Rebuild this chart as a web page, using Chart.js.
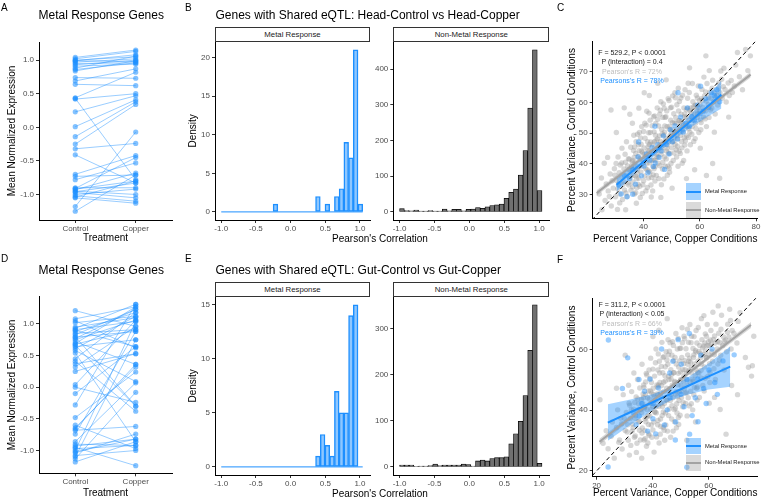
<!DOCTYPE html>
<html>
<head>
<meta charset="utf-8">
<script src="https://cdn.jsdelivr.net/npm/chart.js@4.4.1/dist/chart.umd.min.js"></script>
<style>
  html, body { margin: 0; padding: 0; background: #fff; }
  #fig { position: relative; width: 766px; height: 499px; overflow: hidden; font-family: "Liberation Sans", Arial, sans-serif; }
  #fig canvas { position: absolute; }
  .t { position: absolute; white-space: nowrap; line-height: 1; }
  .strip { position: absolute; box-sizing: border-box; border: 1px solid #333; background: #fff; font-size: 7.8px; color: #1a1a1a; display: flex; align-items: center; justify-content: center; }
  .key { position: absolute; width: 15px; }
  .key i { position: absolute; left: 0; right: 0; top: 50%; height: 2px; margin-top: -1px; }
</style>
</head>
<body>
<div id="fig"></div>
<script>
// ---- data ----
const treatments = ['Control', 'Copper'];

// A / D: mean normalized expression per metal response gene
const headCtrl = [1.04, 1.02, 1.00, 0.99, 0.97, 0.95, 0.93, 0.91, 0.88, 0.84, 0.74, 0.69, 0.64, 0.44, 0.42, 0.43, 0.23, 0.01, -0.14, -0.25, -0.32, -0.41, -0.70, -0.73, -0.78, -0.90, -0.92, -0.93, -0.95, -0.97, -1.00, -1.02, -1.04, -1.05, -0.91, -1.18, -1.25, -0.96, 0.99, 0.86];
const headCopper = [1.15, 1.13, 1.05, 0.98, 1.02, 0.96, 1.00, 0.94, 1.06, 0.99, 0.73, 0.87, 0.62, 0.82, 0.50, -0.78, 0.47, 0.41, 0.38, 0.34, -0.24, -0.83, -0.42, -0.71, -0.53, -0.90, -0.80, -0.68, -1.00, -1.05, -0.92, -1.10, -0.80, -1.13, -0.45, -0.07, -0.71, -0.83, 1.08, 0.96];
const gutCtrl = [1.21, 1.08, 1.05, 1.02, 0.93, 0.91, 0.88, 0.85, 0.83, 0.79, 0.75, 0.72, 0.69, 0.66, 0.64, 0.61, 0.58, 0.54, 0.45, 0.41, 0.37, 0.32, 0.04, 0.00, -0.10, -0.28, -0.48, -0.60, -0.64, -0.68, -0.74, -0.86, -0.93, -0.97, -1.00, -1.04, -1.08, -1.13, -1.18, -0.95, 0.90, 0.77, -1.02, -0.90, 0.68, 0.95, 0.80, -0.66, 0.25, -1.10];
const gutCopper = [0.96, 1.27, 0.62, 1.12, 1.31, 1.04, 1.18, 0.91, 1.23, 0.88, 1.06, 0.36, 1.27, -0.30, 0.75, 1.12, 0.09, -0.86, 1.18, -0.38, 0.53, 0.96, 1.06, -0.24, 0.64, 1.31, 0.24, -0.97, 0.32, -0.62, 0.88, 0.07, -0.82, -0.92, 1.04, -0.74, -1.00, -0.08, -0.86, -1.24, 0.64, 1.23, -0.82, -0.92, 0.91, 1.10, -0.30, 0.36, 0.53, 0.75];

// B / E: histogram bins of Pearson's correlation
const binCenters = [-0.966, -0.898, -0.830, -0.762, -0.694, -0.626, -0.558, -0.490, -0.422, -0.354, -0.286, -0.218, -0.150, -0.082, -0.014, 0.054, 0.122, 0.190, 0.258, 0.326, 0.394, 0.462, 0.530, 0.598, 0.666, 0.734, 0.802, 0.870, 0.938, 1.006];
const binEdges = [-1.0, 1.04];
const headMetal = [0, 0, 0, 0, 0, 0, 0, 0, 0, 0, 0, 1, 0, 0, 0, 0, 0, 0, 0, 0, 2, 0, 1, 0, 2, 3, 9, 7, 21, 1];
const headOther = [9, 4, 3, 5, 2, 2, 4, 2, 2, 8, 3, 7, 7, 3, 7, 8, 12, 10, 14, 18, 20, 22, 38, 55, 64, 103, 172, 291, 454, 60];
const gutMetal = [0, 0, 0, 0, 0, 0, 0, 0, 0, 0, 0, 0, 0, 0, 0, 0, 0, 0, 0, 0, 1, 3, 2, 1, 7, 5, 5, 14, 15, 0];
const gutOther = [4, 4, 4, 1, 2, 2, 3, 6, 3, 4, 4, 4, 4, 6, 5, 2, 13, 15, 13, 18, 20, 20, 22, 50, 72, 99, 155, 253, 352, 8];

// C / F: percent variance, copper (x) vs control (y)
const headGrey = [[24.3,30.2],[25.1,35.4],[26.4,28.1],[26.8,33.5],[27.5,31.2],[28.2,36.7],[28.6,26.3],[29.3,32.1],[29.7,38.4],[30.1,29.3],[30.5,34.6],[30.8,25.2],
  [31.2,33.4],[31.4,37.1],[31.7,30.2],[32.1,35.6],[32.3,40.3],[32.6,28.4],[33.0,34.2],[33.3,31.5],[33.5,43.1],[33.9,36.2],[34.2,29.4],[34.4,39.3],[34.8,33.1],[35.0,41.5],[35.3,37.2],[35.6,31.4],[31.0,42.2],[32.4,45.1],[33.1,38.3],[34.0,47.2],[30.3,40.1],[31.6,27.3],[34.6,33.8],[35.5,45.4],[33.7,25.1],
  [36.1,38.2],[36.3,34.1],[36.5,44.3],[36.8,30.2],[37.0,40.4],[37.2,36.1],[37.4,47.2],[37.7,32.3],[38.0,39.1],[38.2,42.4],[38.4,35.3],[38.6,50.2],[38.9,29.1],[39.1,37.4],[39.3,44.1],[39.5,41.3],[39.8,33.2],[40.0,40.3],[40.2,45.2],[40.4,36.1],[40.6,48.3],[40.9,31.2],[36.2,41.1],[37.3,43.4],[38.3,46.2],[39.4,52.1],[36.6,49.3],[37.5,27.2],[39.6,30.4],[40.5,53.2],[38.1,33.4],[36.4,36.3],[37.8,38.1],[39.2,46.4],[40.7,42.2],
  [41.1,42.3],[41.3,38.1],[41.5,47.2],[41.8,35.4],[42.0,44.1],[42.2,40.3],[42.5,50.2],[42.7,33.1],[43.0,43.2],[43.2,46.4],[43.4,39.1],[43.6,55.3],[43.9,45.1],[44.1,41.2],[44.3,49.3],[44.6,36.2],[44.8,44.4],[45.0,48.1],[45.2,40.2],[45.4,52.3],[41.2,57.1],[42.3,37.3],[43.3,31.2],[44.4,53.1],[45.5,35.2],[41.6,44.3],[42.6,47.1],[43.7,41.3],[44.7,43.1],[45.7,46.2],[41.9,50.1],[42.8,29.2],[43.8,50.4],[44.9,58.2],[45.8,56.1],[41.4,32.3],[42.4,54.2],[43.5,36.4],[44.2,39.1],[45.3,42.2],
  [46.1,47.3],[46.3,43.1],[46.5,51.2],[46.8,38.3],[47.0,46.1],[47.2,49.4],[47.5,42.2],[47.7,55.1],[48.0,48.3],[48.2,44.2],[48.4,52.1],[48.7,39.2],[49.0,47.1],[49.2,51.3],[49.4,43.4],[49.6,58.2],[49.9,49.1],[50.1,45.2],[50.3,53.4],[50.6,41.1],[46.2,60.2],[47.3,35.1],[48.3,57.2],[49.3,37.3],[50.4,62.1],[46.6,45.2],[47.6,52.3],[48.6,46.1],[49.7,54.2],[50.7,47.3],[46.9,55.1],[47.8,39.2],[48.8,61.2],[49.8,40.1],[50.8,56.3],[46.4,33.2],[47.4,58.1],[48.5,36.3],[49.5,49.2],[50.5,51.1],
  [51.1,50.2],[51.3,46.3],[51.5,55.1],[51.8,42.2],[52.0,51.3],[52.2,48.1],[52.5,57.2],[52.7,44.1],[53.0,52.4],[53.2,49.3],[53.4,56.1],[53.7,45.2],[54.0,53.1],[54.2,50.4],[54.4,58.2],[54.7,46.1],[55.0,52.3],[55.2,55.2],[55.4,49.1],[55.7,61.3],[51.2,63.1],[52.3,39.2],[53.3,61.4],[54.3,41.1],[55.5,44.2],[51.6,53.3],[52.6,54.1],[53.6,47.2],[54.6,55.3],[55.8,58.1],[51.9,59.2],[52.8,60.3],[53.8,40.2],[54.8,64.1],[55.9,66.2],
  [56.2,54.1],[56.5,50.3],[56.8,58.2],[57.1,55.4],[57.3,52.1],[57.6,60.2],[57.9,47.3],[58.2,56.1],[58.5,53.2],[58.8,62.3],[59.1,55.1],[59.4,58.4],[59.7,50.2],[60.0,57.1],[60.3,54.3],[60.6,61.2],[56.3,63.2],[57.4,66.1],[58.4,48.2],[59.5,65.3],[60.4,51.1],[56.7,46.2],[58.6,59.1],[59.2,61.4],[60.8,64.2],
  [61.1,58.3],[61.4,55.2],[61.7,62.1],[62.0,57.2],[62.3,60.4],[62.6,66.1],[63.0,59.2],[63.3,55.1],[63.6,63.3],[64.0,61.2],[64.3,58.1],[64.6,67.2],[65.0,60.3],[65.3,63.1],[61.5,68.2],[62.4,52.1],[63.4,70.3],[65.5,56.2],
  [66.1,62.2],[66.4,59.1],[66.8,66.3],[67.2,63.1],[67.5,70.2],[68.0,61.3],[68.4,65.1],[69.0,64.2],[69.4,60.1],[70.1,66.3],[70.5,62.2],[68.6,71.1],
  [71.2,67.1],[71.6,63.2],[72.3,65.3],[72.8,72.1],[73.4,76.2],[74.1,68.3],[75.2,64.1],[76.3,77.2],[77.1,70.3],[78.0,75.1],
  [62.2,75.1],[45.1,66.2],[38.4,58.1],[55.3,35.2],[60.2,45.1],[65.2,50.3],[30.4,50.2],[27.3,42.1],[48.1,67.3],[42.1,62.2],[50.2,32.1],[56.4,71.2],[35.2,56.1],[70.3,55.2],[46.2,29.1],
  [28.5,57.5],[33.2,58.2],[40.3,63.1],[36.1,53.2],[62.4,36.2],[67.1,35.3],[64.6,40.1],[58.2,38.1],[26.1,40.2],[25.3,25.1],
  [35.8,39.2],[36.7,42.1],[37.6,35.2],[38.5,44.3],[39.4,39.2],[40.3,43.1],[41.2,40.2],[42.1,46.3],[43.0,41.1],[43.9,47.2],[44.8,42.3],[45.7,49.1],[46.6,44.2],[47.5,50.3],[48.4,45.1],[49.3,52.2],[50.2,47.1],[51.1,53.3],[52.0,49.2],[52.9,54.1],[53.8,51.3],[54.7,56.2],[55.6,52.1],[56.5,57.3],[57.4,54.2],[58.3,59.1],[59.2,56.3],[60.1,59.2],
  [35.2,35.4],[36.0,40.6],[37.1,38.7],[38.0,36.8],[38.8,41.7],[39.7,43.6],[40.8,38.5],[41.7,45.6],[42.9,43.7],[43.8,38.4],[44.5,47.6],[45.6,45.3],[46.7,49.7],[47.9,47.4],[48.9,43.5],[49.9,50.6],[51.0,48.6],[51.7,44.6],[52.9,50.7],[53.5,53.8],[54.5,48.5],[55.3,57.6],[56.1,51.4],[57.0,56.7],[57.8,58.5],[58.9,57.5],[59.9,60.5],[61.0,60.7],[62.1,63.4],[63.2,61.6],[64.4,64.6],[65.6,61.7],[66.7,64.6],[67.8,67.5],
  [33.6,40.5],[34.9,38.2],[36.9,45.5],[37.9,49.6],[39.0,48.4],[40.1,50.5],[41.0,52.6],[42.0,56.5],[43.1,52.4],[44.0,55.6],[45.1,54.5],[46.0,57.4],[47.1,59.5],[48.0,55.3],[49.1,60.6],[50.0,58.4],[51.4,61.5],[52.4,64.6],[53.9,62.3],
  [36.2,32.5],[37.3,30.6],[38.7,32.7],[40.1,34.5],[41.9,37.6],[42.9,35.6],[44.1,34.4],[45.9,39.4],[46.9,40.5],[48.1,41.6],[49.2,38.6],[50.9,43.5],[52.1,45.7],[53.1,43.4],[54.9,47.5],[56.0,48.6],[57.2,49.6],[58.7,51.5],[60.5,53.4],[61.9,54.6],[63.8,57.5],
  [29.9,36.3],[30.9,31.8],[31.8,39.6],[32.8,33.4],[33.8,30.5],[34.7,41.7],[28.9,34.5],[27.9,29.4]];
const headBlue = [[31.2,33.1],[32.1,30.2],[33.3,36.1],[34.2,29.3],[35.1,35.2],[36.3,38.1],[37.2,33.4],[38.1,42.2],[39.3,36.1],[40.2,39.3],[41.1,43.2],[41.6,37.1],[42.3,41.2],[43.1,45.3],[43.6,39.1],[44.2,40.3],[45.1,46.2],[45.6,42.1],[46.3,44.2],[47.1,49.1],[47.5,38.2],[48.2,46.3],[49.1,43.2],[49.6,51.1],[50.3,47.2],[51.2,52.3],[52.1,48.1],[53.2,55.2],[54.1,50.3],[55.1,53.1],[55.6,58.2],[56.3,52.1],[57.2,55.3],[58.1,54.2],[59.2,59.1],[60.1,56.3],[61.2,57.1],[62.1,61.2],[63.2,58.3],[64.1,63.1],[65.2,62.2],[66.1,64.1],[67.1,60.2],[38.3,47.1],[44.1,52.2],[52.3,63.1],[36.2,30.1],[60.3,65.2]];
const gutGrey = [[21.2,43.4],[22.3,29.1],[23.4,33.2],[24.1,27.3],[25.2,31.4],[25.6,36.1],[26.3,24.2],[27.1,34.3],[27.5,40.1],[28.2,30.2],[28.6,37.3],[29.1,27.2],[29.5,45.1],[30.2,33.3],[30.6,39.2],
  [31.1,35.2],[31.3,30.1],[31.6,42.3],[32.0,37.2],[32.2,28.4],[32.5,46.1],[33.0,34.2],[33.2,40.3],[33.5,31.1],[33.9,38.2],[34.1,44.3],[34.4,29.1],[34.8,36.2],[35.0,42.1],[35.3,33.4],[31.4,48.2],[32.4,40.1],[33.3,52.2],[34.2,26.1],[35.4,47.3],[31.7,25.2],[32.7,33.1],[33.7,37.3],[34.6,50.1],[35.6,30.2],
  [36.1,39.2],[36.3,34.1],[36.6,45.3],[36.9,30.2],[37.1,41.1],[37.3,37.2],[37.5,49.3],[37.8,28.1],[38.0,40.2],[38.2,44.1],[38.5,35.3],[38.7,53.2],[39.0,38.1],[39.2,46.3],[39.4,42.2],[39.7,31.1],[40.0,41.3],[40.2,47.2],[40.4,36.1],[40.7,51.2],[36.2,55.1],[37.2,33.3],[38.3,29.2],[39.3,57.1],[40.5,26.2],[36.5,42.1],[37.4,45.2],[38.4,38.3],[39.5,35.1],[40.6,44.2],[36.8,48.3],[37.7,52.1],[38.6,32.2],[39.6,49.1],[40.8,39.3],
  [41.1,43.2],[41.3,39.1],[41.5,48.3],[41.8,35.2],[42.0,45.1],[42.2,41.3],[42.5,52.2],[42.7,32.1],[43.0,44.3],[43.2,48.1],[43.4,38.2],[43.7,57.3],[44.0,46.1],[44.2,42.2],[44.4,51.3],[44.7,35.1],[45.0,47.2],[45.2,43.3],[45.4,55.1],[45.7,38.2],[41.2,60.1],[42.3,29.2],[43.3,62.3],[44.3,30.1],[45.5,63.2],[41.6,45.3],[42.6,49.1],[43.5,41.2],[44.5,54.3],[45.8,50.1],[41.9,53.2],[42.8,37.1],[43.8,34.3],[44.8,59.2],[45.3,33.1],[41.4,31.2],[42.4,56.1],[43.6,52.3],[44.6,39.1],[45.6,58.2],
  [46.1,47.1],[46.3,43.2],[46.5,53.3],[46.8,37.1],[47.0,48.2],[47.2,44.1],[47.5,56.3],[47.7,40.2],[48.0,49.1],[48.2,45.3],[48.4,55.2],[48.7,39.1],[49.0,48.3],[49.2,52.1],[49.4,43.2],[49.7,60.3],[50.0,50.1],[50.2,46.2],[50.4,57.3],[50.7,41.1],[46.2,62.2],[47.3,33.1],[48.3,65.2],[49.3,35.3],[50.5,67.1],[46.6,50.2],[47.6,52.3],[48.6,42.1],[49.6,56.2],[50.8,53.3],[46.9,58.1],[47.8,36.2],[48.8,60.1],[49.8,38.3],[50.6,62.2],[46.4,31.1],[47.4,61.3],[48.5,34.2],[49.5,46.1],[50.3,44.2],
  [51.1,51.2],[51.3,47.1],[51.5,56.3],[51.8,42.2],[52.0,52.1],[52.2,48.3],[52.5,58.2],[52.7,44.1],[53.0,53.2],[53.2,57.1],[53.4,49.3],[53.7,62.2],[54.0,54.1],[54.2,50.2],[54.4,60.3],[54.7,45.1],[55.0,55.2],[55.2,51.3],[55.4,59.1],[55.7,47.2],[51.2,64.3],[52.3,38.1],[53.3,68.2],[54.3,40.1],[55.5,66.2],[51.6,53.3],[52.6,55.1],[53.6,46.2],[54.6,57.3],[55.8,62.1],[51.9,60.2],[52.8,62.3],[53.8,42.1],[54.8,64.2],[55.9,43.3],
  [56.2,56.1],[56.5,52.2],[56.8,61.3],[57.1,57.2],[57.3,53.1],[57.6,63.2],[57.9,48.1],[58.2,58.3],[58.5,54.2],[58.8,65.1],[59.1,57.3],[59.4,61.2],[59.7,51.1],[60.0,58.2],[60.3,55.3],[60.6,63.1],[56.3,67.2],[57.4,70.1],[58.4,46.3],[59.5,68.2],[60.4,49.1],[56.7,44.2],[58.6,62.1],[59.2,64.3],[60.8,66.2],
  [61.1,59.2],[61.4,56.1],[61.7,63.3],[62.0,58.2],[62.3,62.1],[62.6,68.3],[63.0,60.1],[63.3,55.2],[63.6,65.3],[64.0,62.2],[64.3,58.1],[64.6,71.2],[65.0,61.3],[65.3,64.1],[61.5,72.2],[62.4,50.1],[63.4,74.3],[65.5,53.2],
  [66.1,63.1],[66.4,59.2],[66.8,68.3],[67.2,64.1],[67.5,73.2],[68.0,60.1],[68.4,66.2],[69.0,65.3],[70.1,62.1],[70.5,69.2],[71.2,72.1],[73.1,57.3],[74.2,54.1],[75.3,51.2],[75.6,54.6],[76.1,64.3],
  [66.2,32.1],[64.1,40.2],[70.3,45.1],[30.2,58.1],[27.1,47.2],[45.2,70.1],[40.1,64.2],[55.3,36.1],[60.2,42.3],[36.1,24.2],[52.2,30.1],[62.1,44.2],[58.3,71.1],[42.2,66.3],[68.2,48.1],
  [35.8,40.2],[36.7,44.1],[37.6,36.2],[38.5,46.3],[39.4,40.2],[40.3,45.1],[41.2,41.2],[42.1,48.3],[43.0,42.1],[43.9,49.2],[44.8,43.3],[45.7,51.1],[46.6,45.2],[47.5,52.3],[48.4,46.1],[49.3,54.2],[50.2,48.1],[51.1,55.3],[52.0,50.2],[52.9,56.1],[53.8,52.3],[54.7,58.2],[55.6,53.1],[56.5,59.3],[57.4,55.2],[58.3,61.1],[59.2,57.3],[60.1,61.2],
  [35.2,36.4],[36.0,43.6],[37.1,40.7],[38.0,37.8],[38.8,43.7],[39.7,45.6],[40.8,39.5],[41.7,47.6],[42.9,45.7],[43.8,39.4],[44.5,49.6],[45.6,46.3],[46.7,51.7],[47.9,49.4],[48.9,44.5],[49.9,52.6],[51.0,49.6],[51.7,45.6],[52.9,52.7],[53.5,55.8],[54.5,49.5],[55.3,59.6],[56.1,52.4],[57.0,58.7],[57.8,60.5],[58.9,59.5],[59.9,62.5],[61.0,61.7],[62.1,64.4],[63.2,62.6],[64.4,66.6],[65.6,62.7],[66.7,65.6],[67.8,69.5],
  [33.6,42.5],[34.9,40.2],[36.9,47.5],[37.9,51.6],[39.0,50.4],[40.1,53.5],[41.0,55.6],[42.0,58.5],[43.1,54.4],[44.0,57.6],[45.1,56.5],[46.0,59.4],[47.1,62.5],[48.0,57.3],[49.1,63.6],[50.0,60.4],[51.4,63.5],[52.4,66.6],[53.9,64.3],
  [36.2,32.5],[37.3,30.6],[38.7,31.7],[40.1,33.5],[41.9,36.6],[42.9,34.6],[44.1,33.4],[45.9,40.4],[46.9,41.5],[48.1,40.6],[49.2,37.6],[50.9,42.5],[52.1,45.7],[53.1,41.4],[54.9,47.5],[56.0,47.6],[57.2,50.6],[58.7,50.5],[60.5,52.4],[61.9,53.6],[63.8,56.5],
  [29.9,37.3],[30.9,32.8],[31.8,41.6],[32.8,35.4],[33.8,31.5],[34.7,43.7],[28.9,35.5],[27.9,29.4]];
const gutBlue = [[24.2,63.1],[24.1,21.3],[52.2,21.2],[31.1,57.2],[29.2,47.1],[69.1,58.2],[35.2,38.1],[37.1,46.2],[40.2,42.1],[42.1,47.3],[45.2,40.1],[46.1,52.2],[48.2,36.1],[50.1,45.2],[52.3,50.1],[53.1,65.2],[55.2,44.1],[56.1,50.3],[58.2,47.1],[60.1,53.2],[62.2,49.1],[65.1,56.2],[44.2,35.1],[41.1,32.2],[38.2,33.1],[36.1,42.2],[33.2,39.1],[34.1,35.2],[47.2,56.1],[49.1,63.2],[51.2,41.1],[54.1,38.2],[57.2,58.1],[59.1,42.2],[61.2,60.1],[63.1,45.2],[43.2,60.1],[39.1,50.2],[46.2,44.1],[48.1,30.2],[50.2,55.1],[53.2,32.1],[56.2,36.2],[35.1,50.1],[40.1,37.2]];

// fitted lines with confidence bands
const headFitGreyX = [23.4, 50, 78.1];
const headFitGreyY = [30.5, 49.2, 69.0];
const headFitGreyLo = [29.6, 48.8, 68.1];
const headFitGreyHi = [31.4, 49.6, 69.9];
const headFitBlueX = [30.5, 38, 44, 50, 56, 62, 67.7];
const headFitBlueY = [33.2, 39.1, 43.8, 48.6, 53.3, 58.0, 62.5];
const headFitBlueLo = [31.0, 37.6, 42.7, 47.3, 51.3, 54.9, 58.0];
const headFitBlueHi = [35.4, 40.6, 44.9, 49.9, 55.3, 61.1, 67.0];
const gutFitGreyX = [21, 48, 75.1];
const gutFitGreyY = [29.6, 48.8, 68.0];
const gutFitGreyLo = [28.6, 48.3, 67.0];
const gutFitGreyHi = [30.6, 49.3, 69.0];
const gutFitBlueX = [24, 32, 40, 46, 52, 60, 67.7];
const gutFitBlueY = [35.9, 39.3, 42.6, 45.2, 47.7, 51.1, 54.3];
const gutFitBlueLo = [29.9, 35.1, 40.0, 43.0, 45.0, 46.8, 47.7];
const gutFitBlueHi = [41.9, 43.5, 45.2, 47.4, 50.4, 55.4, 60.9];
const identity = [10, 90];

// ---- drawing ----
const BLUE = '#1e90ff';
const fig = document.getElementById('fig');
Chart.defaults.font.family = '"Liberation Sans", Arial, sans-serif';
Chart.defaults.animation = false;
Chart.defaults.events = [];
Chart.defaults.plugins.legend.display = false;
Chart.defaults.plugins.tooltip.enabled = false;

function axis(min, max, ticks, fmt, title, titlePad, tickPad) {
  return {
    type: 'linear', min: min, max: max, offset: false,
    afterBuildTicks: s => { s.ticks = ticks.map(v => ({ value: v })); },
    ticks: { callback: fmt, color: '#4d4d4d', font: { size: 8 }, padding: tickPad, maxRotation: 0, autoSkip: false },
    grid: { drawOnChartArea: false, drawTicks: true, tickLength: 3, color: '#333', offset: false },
    border: { color: '#000', width: 1 },
    title: { display: !!title, text: title, color: '#000', font: { size: 10 }, padding: titlePad || 0 }
  };
}

// box = canvas [left, top, w, h], area = plot rectangle [l, t, r, b] in page pixels
function place(box, area, config) {
  const c = document.createElement('canvas');
  c.width = box[2];
  c.height = box[3];
  c.style.left = box[0] + 'px';
  c.style.top = box[1] + 'px';
  c.style.width = box[2] + 'px';
  c.style.height = box[3] + 'px';
  fig.appendChild(c);
  config.options.responsive = false;
  config.options.layout = { padding: { left: 0, top: area[1] - box[1], right: box[0] + box[2] - area[2], bottom: 0 } };
  config.options.scales.x.afterFit = s => { s.height = box[1] + box[3] - area[3]; };
  config.options.scales.y.afterFit = s => { s.width = area[0] - box[0]; };
  return new Chart(c, config);
}

function slopeChart(box, area, ctrl, copper, yMin, yMax, xPad) {
  const datasets = ctrl.map((v, i) => ({
    data: [{ x: 1, y: v }, { x: 2, y: copper[i] }],
    borderColor: 'rgba(30,144,255,0.5)',
    borderWidth: 0.9,
    pointRadius: 2.6,
    pointBackgroundColor: 'rgba(30,144,255,0.55)',
    pointBorderWidth: 0
  }));
  place(box, area, {
    type: 'line',
    data: { datasets },
    options: {
      scales: {
        x: axis(0.4, 2.6, [1, 2], v => treatments[v - 1], 'Treatment', { top: 0, bottom: xPad }, 1),
        y: axis(yMin, yMax, [-1, -0.5, 0, 0.5, 1], v => v.toFixed(1), 'Mean Normalized Expression', { top: 6, bottom: 0 }, 2)
      }
    }
  });
}

function histChart(box, area, vals, fill, stroke, yMax, yTicks, yTitle, baseline) {
  const datasets = [{
    type: 'bar',
    data: binCenters.map((c, i) => ({ x: c, y: vals[i] })),
    backgroundColor: fill,
    borderColor: stroke,
    borderWidth: 0.8,
    borderSkipped: false,
    barPercentage: 1,
    categoryPercentage: 1
  }];
  if (baseline) {
    datasets.push({
      type: 'line',
      data: binEdges.map(e => ({ x: e, y: 0 })),
      borderColor: stroke, borderWidth: 1, pointRadius: 0
    });
  }
  place(box, area, {
    type: 'bar',
    data: { datasets },
    options: {
      scales: {
        x: axis(-1.09, 1.145, [-1, -0.5, 0, 0.5, 1], v => v.toFixed(1), '', 0, 1),
        y: axis(-yMax / 21, yMax, yTicks, v => String(v), yTitle, { top: 3, bottom: 0 }, 2)
      }
    }
  });
}

function scatterChart(box, area, grey, blue, fit, xr, yr, xt, yt, xPad) {
  const pts = (xs, ys) => xs.map((x, i) => ({ x: x, y: ys[i] }));
  const band = { showLine: true, pointRadius: 0, borderWidth: 0 };
  place(box, area, {
    type: 'scatter',
    data: {
      datasets: [
        { data: grey.map(p => ({ x: p[0], y: p[1] })), pointRadius: 2.7, pointBackgroundColor: 'rgba(150,150,150,0.38)', pointBorderWidth: 0, order: 7 },
        { data: blue.map(p => ({ x: p[0], y: p[1] })), pointRadius: 2.7, pointBackgroundColor: 'rgba(30,144,255,0.45)', pointBorderWidth: 0, order: 6 },
        Object.assign({ data: pts(fit.gx, fit.glo), fill: false, order: 5 }, band),
        Object.assign({ data: pts(fit.gx, fit.ghi), fill: 2, backgroundColor: 'rgba(140,140,140,0.35)', order: 5 }, band),
        Object.assign({ data: pts(fit.bx, fit.blo), fill: false, order: 4 }, band),
        Object.assign({ data: pts(fit.bx, fit.bhi), fill: 4, backgroundColor: 'rgba(30,144,255,0.4)', order: 4 }, band),
        { data: pts(fit.gx, fit.gy), showLine: true, pointRadius: 0, borderColor: '#a3a3a3', borderWidth: 2, order: 3 },
        { data: pts(fit.bx, fit.by), showLine: true, pointRadius: 0, borderColor: BLUE, borderWidth: 2, order: 2 },
        { data: identity.map(v => ({ x: v, y: v })), showLine: true, pointRadius: 0, borderColor: '#000', borderWidth: 1, borderDash: [4, 3], order: 1 }
      ]
    },
    options: {
      scales: {
        x: axis(xr[0], xr[1], xt, v => String(v), 'Percent Variance, Copper Conditions', { top: 0, bottom: xPad }, 1),
        y: axis(yr[0], yr[1], yt, v => String(v), 'Percent Variance, Control Conditions', { top: 9.8, bottom: 0 }, 2)
      }
    }
  });
}

// row 1 (head)
slopeChart([0, 0, 190, 250], [39, 42, 172, 220], headCtrl, headCopper, -1.38, 1.27, 5.7);
histChart([184, 0, 187, 250], [215, 41.7, 370, 220], headMetal, 'rgba(30,144,255,0.5)', BLUE, 22.05, [0, 5, 10, 15, 20], 'Density', true);
histChart([371, 0, 185, 250], [393.3, 41.7, 549.3, 220], headOther, '#707070', '#000', 476.7, [0, 100, 200, 300, 400], '', false);
scatterChart([556, 0, 210, 250], [592.7, 41.7, 757.7, 218.3], headGrey, headBlue,
  { gx: headFitGreyX, gy: headFitGreyY, glo: headFitGreyLo, ghi: headFitGreyHi, bx: headFitBlueX, by: headFitBlueY, blo: headFitBlueLo, bhi: headFitBlueHi },
  [22.0, 80.6], [22.3, 79.7], [40, 60, 80], [30, 40, 50, 60, 70], 5);

// row 2 (gut)
slopeChart([0, 250, 190, 249], [39, 296.7, 172, 473.3], gutCtrl, gutCopper, -1.36, 1.43, 0);
histChart([184, 250, 187, 249], [215, 296.7, 370, 475], gutMetal, 'rgba(30,144,255,0.5)', BLUE, 15.75, [0, 5, 10, 15], 'Density', true);
histChart([371, 250, 185, 249], [393.3, 296.7, 549.3, 475], gutOther, '#707070', '#000', 369.6, [0, 100, 200, 300], '', false);
scatterChart([556, 250, 210, 249], [592.7, 298.3, 757.7, 476.7], gutGrey, gutBlue,
  { gx: gutFitGreyX, gy: gutFitGreyY, glo: gutFitGreyLo, ghi: gutFitGreyHi, bx: gutFitBlueX, by: gutFitBlueY, blo: gutFitBlueLo, bhi: gutFitBlueHi },
  [18.6, 77.5], [18.1, 76.8], [20, 40, 60], [20, 40, 60], 0);

// ---- text, strips and legends ----
function label(text, x, y, size, color, center) {
  const d = document.createElement('div');
  d.className = 't';
  d.textContent = text;
  d.style.left = x + 'px';
  d.style.top = y + 'px';
  d.style.fontSize = size + 'px';
  d.style.color = color || '#000';
  d.style.transform = 'translate(' + (center ? '-50%' : '0') + ', -50%)';
  fig.appendChild(d);
}
function strip(text, l, t, r, b) {
  const d = document.createElement('div');
  d.className = 'strip';
  d.textContent = text;
  d.style.left = l + 'px';
  d.style.top = t + 'px';
  d.style.width = (r - l) + 'px';
  d.style.height = (b - t) + 'px';
  fig.appendChild(d);
}
function key(x, y, h, bg, line) {
  const d = document.createElement('div');
  d.className = 'key';
  d.style.left = x + 'px';
  d.style.top = y + 'px';
  d.style.height = h + 'px';
  d.style.background = bg;
  const i = document.createElement('i');
  i.style.background = line;
  d.appendChild(i);
  fig.appendChild(d);
}

label('A', 1, 7.5, 10);
label('Metal Response Genes', 38.5, 15, 12);
label('B', 185, 7.5, 10);
label('Genes with Shared eQTL: Head-Control vs Head-Copper', 215.5, 15, 12);
label('C', 557, 7.5, 10);
strip('Metal Response', 215, 26.7, 370, 41.7);
strip('Non-Metal Response', 393.3, 26.7, 549.3, 41.7);
label("Pearson's Correlation", 380, 238.7, 10, '#000', true);
label('F = 529.2, P < 0.0001', 632, 51.7, 7, '#1a1a1a', true);
label('P (interaction) = 0.4', 632, 61.3, 7, '#1a1a1a', true);
label("Pearson's R = 72%", 632, 70.7, 7, '#bdbdbd', true);
label("Pearsons's R = 78%", 632, 80, 7, BLUE, true);
key(686, 183.3, 16.5, 'rgba(30,144,255,0.4)', BLUE);
key(686, 202.3, 16, 'rgba(150,150,150,0.35)', '#a3a3a3');
label('Metal Response', 705, 191.7, 5.8, '#222');
label('Non-Metal Response', 705, 210.5, 5.8, '#222');

label('D', 1, 259, 10);
label('Metal Response Genes', 38.5, 270, 12);
label('E', 185, 259, 10);
label('Genes with Shared eQTL: Gut-Control vs Gut-Copper', 215.5, 270, 12);
label('F', 557, 259.7, 10);
strip('Metal Response', 215, 281.7, 370, 296.7);
strip('Non-Metal Response', 393.3, 281.7, 549.3, 296.7);
label("Pearson's Correlation", 380, 494, 10, '#000', true);
label('F = 311.2, P < 0.0001', 632, 303.5, 7, '#1a1a1a', true);
label('P (interaction) < 0.05', 632, 313, 7, '#1a1a1a', true);
label("Pearson's R = 66%", 632, 322.5, 7, '#bdbdbd', true);
label("Pearsons's R = 39%", 632, 332, 7, BLUE, true);
key(686, 438.3, 16, 'rgba(30,144,255,0.4)', BLUE);
key(686, 455, 16, 'rgba(150,150,150,0.35)', '#a3a3a3');
label('Metal Response', 705, 446.7, 5.8, '#222');
label('Non-Metal Response', 705, 462.5, 5.8, '#222');
</script>
</body>
</html>
